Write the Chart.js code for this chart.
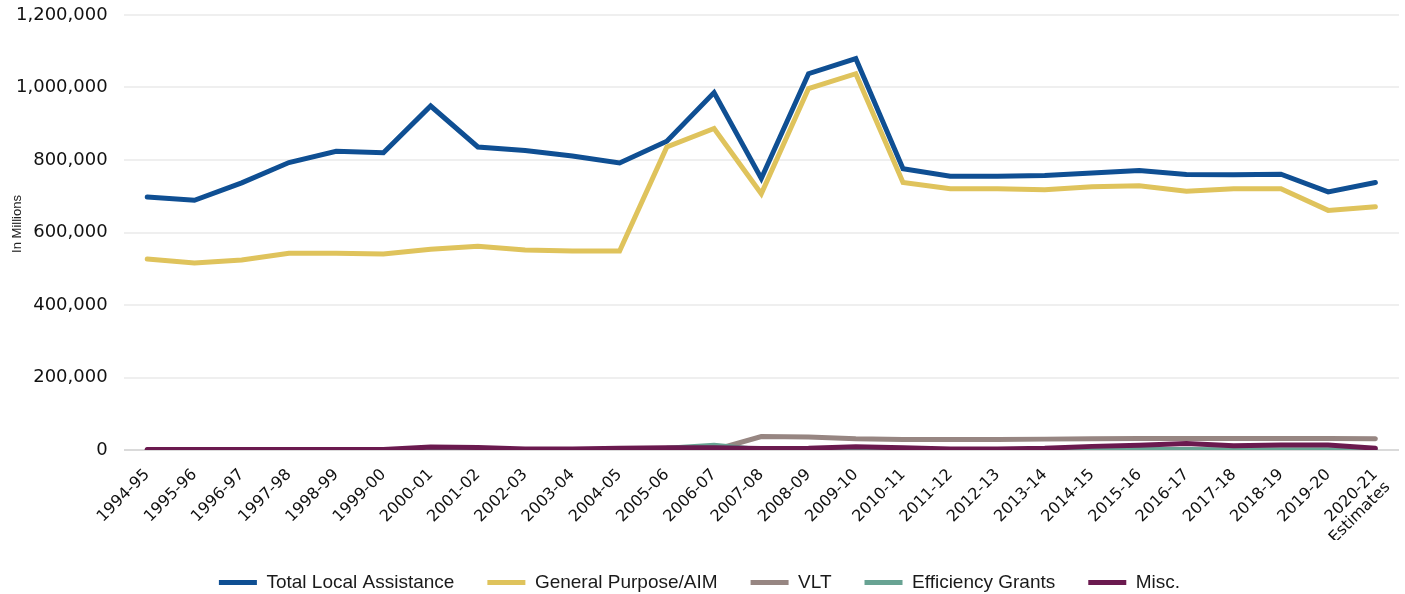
<!DOCTYPE html>
<html>
<head>
<meta charset="utf-8">
<title>Local Assistance</title>
<script src="https://cdn.jsdelivr.net/npm/chart.js@4.4.1/dist/chart.umd.min.js"></script>
<style>
  html, body { margin: 0; padding: 0; background: #fff; }
  .chart-container { position: relative; width: 1405px; height: 594px; }
</style>
</head>
<body>
<div class="chart-container">
  <canvas id="myChart"></canvas>
</div>
<script>
const years = [
  '1994-95', '1995-96', '1996-97', '1997-98', '1998-99', '1999-00', '2000-01',
  '2001-02', '2002-03', '2003-04', '2004-05', '2005-06', '2006-07', '2007-08',
  '2008-09', '2009-10', '2010-11', '2011-12', '2012-13', '2013-14', '2014-15',
  '2015-16', '2016-17', '2017-18', '2018-19', '2019-20', ['2020-21', 'Estimates'],
];

const totalLocal = [
  698000, 689000, 737000, 793000, 824000, 820000, 949000, 836000, 826000, 811000,
  792000, 852000, 986000, 749000, 1038000, 1080000, 776000, 755000, 755000, 757000,
  764000, 771000, 760000, 759000, 761000, 712000, 738000,
];
const generalPurpose = [
  527000, 516000, 524000, 543000, 543000, 541000, 554000, 562000, 552000, 549000,
  549000, 836000, 887000, 707000, 997000, 1038000, 738000, 721000, 721000, 718000,
  726000, 729000, 714000, 721000, 721000, 661000, 671000,
];
const vlt = [
  0, 0, 0, 0, 0, 0, 0, 0, 0, 0, 0, 0, 0, 37000, 36000, 31000, 29000, 29000, 29000,
  30000, 31000, 32000, 32000, 32000, 32000, 32000, 31000,
];
const efficiency = [
  0, 0, 0, 0, 0, 0, 0, 0, 0, 0, 2000, 5000, 13000, 1000, 1000, 1000, 1000, 1000,
  1000, 1000, 1000, 1500, 1500, 1000, 1000, 1000, 0,
];
const misc = [
  1500, 1500, 1500, 1500, 1500, 1500, 8000, 7000, 2500, 3000, 5000, 6000, 6500,
  4000, 5000, 9000, 6000, 3000, 3000, 5000, 10000, 13000, 18000, 12000, 14000,
  14000, 5000,
];
const yTicks = [0, 200000, 400000, 600000, 800000, 1000000, 1200000];

// y title sits inside the label column, so draw it by hand
const yTitlePlugin = {
  id: 'yTitle',
  afterDraw(chart) {
    const c = chart.ctx;
    c.save();
    c.translate(17, 224);
    c.rotate(-Math.PI / 2);
    c.font = '13px "Liberation Sans", Arial, sans-serif';
    c.fillStyle = '#222';
    c.textAlign = 'center';
    c.textBaseline = 'middle';
    c.fillText('In Millions', 0, 0);
    c.restore();
  },
};

function line(label, data, color, order) {
  return {
    label,
    data,
    borderColor: color,
    backgroundColor: color,
    borderWidth: 5,
    borderCapStyle: 'round',
    borderJoinStyle: 'miter',
    pointRadius: 0,
    tension: 0,
    fill: false,
    order,
  };
}

const ctx = document.getElementById('myChart').getContext('2d');

new Chart(ctx, {
  type: 'line',
  data: {
    labels: years,
    datasets: [
      line('Total Local Assistance', totalLocal, '#0f4f93', 4),
      line('General Purpose/AIM', generalPurpose, '#dfc35c', 3),
      line('VLT', vlt, '#978682', 2),
      line('Efficiency Grants', efficiency, '#68a393', 1),
      line('Misc.', misc, '#6b1a4f', 0),
    ],
  },
  options: {
    responsive: true,
    maintainAspectRatio: false,
    animation: false,
    layout: {
      padding: { left: 0, right: 6, top: 0, bottom: -8 },
    },
    plugins: {
      tooltip: { enabled: false },
      legend: {
        position: 'bottom',
        reverse: true,
        labels: {
          usePointStyle: true,
          pointStyle: 'line',
          pointStyleWidth: 38,
          padding: 33,
          color: '#1a1a1a',
          font: { family: '"Liberation Sans", Arial, sans-serif', size: 19 },
        },
      },
    },
    scales: {
      x: {
        offset: true,
        grid: { display: false, drawTicks: false },
        border: { display: false },
        afterFit(axis) {
          axis.height = 90;
          axis.paddingRight = 0;
        },
        ticks: {
          minRotation: 45,
          maxRotation: 45,
          autoSkip: false,
          padding: 16,
          color: '#111',
          font: { family: '"DejaVu Sans", sans-serif', size: 16, lineHeight: 1.1 },
        },
      },
      y: {
        min: 0,
        max: 1200000,
        afterBuildTicks(axis) {
          axis.ticks = yTicks.map(v => ({ value: v }));
        },
        afterFit(axis) {
          axis.paddingTop = 15;
        },
        grid: {
          color: c => (c.tick && c.tick.value === 0 ? '#dadada' : '#efefef'),
          lineWidth: 2,
          drawTicks: false,
        },
        border: { display: false },
        ticks: {
          padding: 16,
          color: '#111',
          font: { family: '"DejaVu Sans", sans-serif', size: 18 },
          callback: v => v.toLocaleString('en-US'),
        },
      },
    },
  },
  plugins: [yTitlePlugin],
});
</script>
</body>
</html>
